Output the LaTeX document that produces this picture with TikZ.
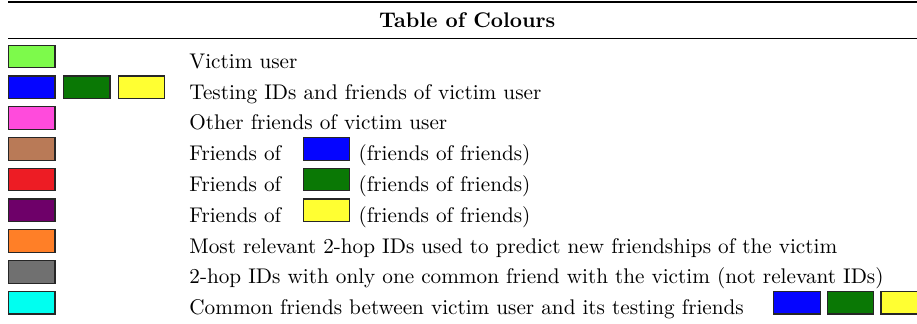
\documentclass[tikz,border=0pt]{standalone}
\usetikzlibrary{positioning}

\definecolor{cvictim}{RGB}{125,250,75}
\definecolor{cblue}{RGB}{5,5,255}
\definecolor{cgreen}{RGB}{10,120,5}
\definecolor{cyellow}{RGB}{255,255,50}
\definecolor{cpink}{RGB}{255,75,220}
\definecolor{cbrown}{RGB}{185,122,87}
\definecolor{cred}{RGB}{237,28,36}
\definecolor{cpurple}{RGB}{110,0,105}
\definecolor{corange}{RGB}{255,127,39}
\definecolor{cgrey}{RGB}{112,112,112}
\definecolor{ccyan}{RGB}{0,255,240}

\begin{document}
\begin{tikzpicture}[
  cbox/.style={draw=black!85, line width=0.55pt, minimum width=0.77cm, minimum height=0.375cm, inner sep=0},
  lbl/.style={inner sep=0, anchor=base west}
]
\clip (0,0) rectangle (15.2,-5.356);

% Cabecera
\draw[line width=1.2pt] (0.133,-0.03) -- (15.2,-0.03);
\node[inner sep=0, anchor=base, font=\bfseries] (title) at (7.745,-0.448) {Table of Colours};
\draw[line width=0.6pt] (0.133,-0.635) -- (15.2,-0.635);

% Columna de colores
\node[cbox, fill=cvictim, anchor=west] (b1) at (0.133,-0.937) {};
\node[cbox, fill=cblue, anchor=west] (b2) at (0.133,-1.447) {};
\node[cbox, fill=cgreen, right=0.12cm of b2] (b2g) {};
\node[cbox, fill=cyellow, right=0.12cm of b2g] (b2y) {};
\node[cbox, fill=cpink, anchor=west] (b3) at (0.133,-1.957) {};
\node[cbox, fill=cbrown, anchor=west] (b4) at (0.133,-2.467) {};
\node[cbox, fill=cred, anchor=west] (b5) at (0.133,-2.977) {};
\node[cbox, fill=cpurple, anchor=west] (b6) at (0.133,-3.487) {};
\node[cbox, fill=corange, anchor=west] (b7) at (0.133,-3.997) {};
\node[cbox, fill=cgrey, anchor=west] (b8) at (0.133,-4.507) {};
\node[cbox, fill=ccyan, anchor=west] (b9) at (0.133,-5.017) {};

% Descripciones
\node[lbl] (t1) at ([xshift=3cm]b1.south west) {Victim user};
\node[lbl] (t2) at ([xshift=3cm]b2.south west) {Testing IDs and friends of victim user};
\node[lbl] (t3) at ([xshift=3cm]b3.south west) {Other friends of victim user};
\node[lbl] (t4) at ([xshift=3cm]b4.south west) {Friends of};
\node[lbl] (t5) at ([xshift=3cm]b5.south west) {Friends of};
\node[lbl] (t6) at ([xshift=3cm]b6.south west) {Friends of};
\node[lbl] (t7) at ([xshift=3cm]b7.south west) {Most relevant 2-hop IDs used to predict new friendships of the victim};
\node[lbl] (t8) at ([xshift=3cm]b8.south west) {2-hop IDs with only one common friend with the victim (not relevant IDs)};
\node[lbl] (t9) at ([xshift=3cm]b9.south west) {Common friends between victim user and its testing friends};

% Colores dentro del texto
\node[cbox, fill=cblue, right=4.097cm of b4] (i4) {};
\node[cbox, fill=cgreen, right=4.097cm of b5] (i5) {};
\node[cbox, fill=cyellow, right=4.097cm of b6] (i6) {};
\node[lbl] (u4) at ([xshift=0.13cm]i4.south east) {(friends of friends)};
\node[lbl] (u5) at ([xshift=0.13cm]i5.south east) {(friends of friends)};
\node[lbl] (u6) at ([xshift=0.13cm]i6.south east) {(friends of friends)};
\node[cbox, fill=cblue, right=11.892cm of b9] (i9b) {};
\node[cbox, fill=cgreen, right=0.1cm of i9b] (i9g) {};
\node[cbox, fill=cyellow, right=0.1cm of i9g] (i9y) {};

\end{tikzpicture}
\end{document}
